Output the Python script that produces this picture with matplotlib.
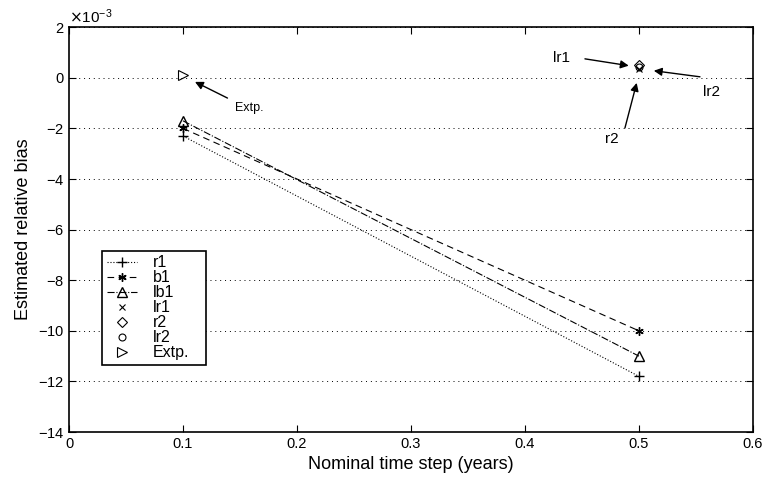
import numpy as np
import matplotlib.pyplot as plt
from matplotlib.ticker import ScalarFormatter

plt.rcParams['font.family'] = ['Liberation Sans', 'DejaVu Sans']

# nominal time steps (years)
steps = [0.1, 0.5]

# estimated relative bias (x 1e-3)
r1 = [-2.3, -11.8]
b1 = [-2.0, -10.0]
lb1 = [-1.7, -11.0]
lr1 = [0.35]
r2 = [0.5]
lr2 = [0.42]
extp = [0.1]

scale = 1e-3


def sc(v):
    return np.array(v) * scale


fig = plt.figure(figsize=(7.67, 4.86), dpi=100)
ax = fig.add_axes([0.09, 0.111, 0.8917, 0.833])

ax.plot(steps, sc(r1), 'k:', marker='+', ms=7, lw=0.8, label='r1')
ax.plot(steps, sc(b1), 'k--', marker=(6, 2, 0), ms=6, lw=0.8, label='b1',
        dashes=(6, 4))
ax.plot(steps, sc(lb1), 'k-.', marker='^', ms=7, lw=0.8, label='lb1',
        mfc='none')
ax.plot([0.5], sc(lr1), 'kx', ms=5, mew=0.8, label='lr1')
ax.plot([0.5], sc(r2), 'kD', ms=5, mfc='none', mew=0.8, label='r2')
ax.plot([0.5], sc(lr2), 'ko', ms=5, mfc='none', mew=0.8, label='lr2')
ax.plot([0.1], sc(extp), 'k>', ms=7, mfc='none', mew=0.8, label='Extp.')

arrow = dict(arrowstyle='-|>', color='k', lw=1, mutation_scale=12,
             shrinkA=0, shrinkB=0)
ax.annotate('', xy=(0.1105, sc(-0.16)), xytext=(0.139, sc(-0.8)),
            arrowprops=arrow)
ax.text(0.146, sc(-1.2), 'Extp.', fontsize=9, ha='left', va='center')
ax.annotate('', xy=(0.491, sc(0.48)), xytext=(0.4526, sc(0.75)),
            arrowprops=arrow)
ax.text(0.432, sc(0.78), 'lr1', fontsize=11, ha='center', va='center')
ax.annotate('', xy=(0.513, sc(0.28)), xytext=(0.5535, sc(0.04)),
            arrowprops=arrow)
ax.text(0.564, sc(-0.55), 'lr2', fontsize=11, ha='center', va='center')
ax.annotate('', xy=(0.498, sc(-0.2)), xytext=(0.4877, sc(-1.98)),
            arrowprops=arrow)
ax.text(0.476, sc(-2.4), 'r2', fontsize=11, ha='center', va='center')

ax.set_xlim(0, 0.6)
ax.set_ylim(-14e-3, 2e-3)
ax.set_xticks(np.arange(0, 0.61, 0.1))
ax.set_xticklabels(['0', '0.1', '0.2', '0.3', '0.4', '0.5', '0.6'])
ax.set_yticks(np.arange(-14, 2.1, 2) * scale)
fmt = ScalarFormatter(useMathText=True)
fmt.set_powerlimits((-3, -3))
ax.yaxis.set_major_formatter(fmt)
ax.yaxis.get_offset_text().set_fontsize(11)

ax.tick_params(direction='in', top=True, right=True, labelsize=10.5,
               length=5)
for s in ax.spines.values():
    s.set_linewidth(1.2)
ax.yaxis.grid(True, linestyle=(0, (1, 4)), color='k', lw=0.7)

ax.set_xlabel('Nominal time step (years)', fontsize=13)
ax.set_ylabel('Estimated relative bias', fontsize=13)

leg = ax.legend(loc='lower left', bbox_to_anchor=(0.048, 0.165, 0.152, 0.1),
                mode='expand', borderaxespad=0, fontsize=11.5,
                handlelength=1.9, labelspacing=0.0, borderpad=0.3,
                handletextpad=1.0, fancybox=False, framealpha=1,
                edgecolor='k')
leg.get_frame().set_linewidth(1.2)

fig.savefig('out.png', dpi=100)
